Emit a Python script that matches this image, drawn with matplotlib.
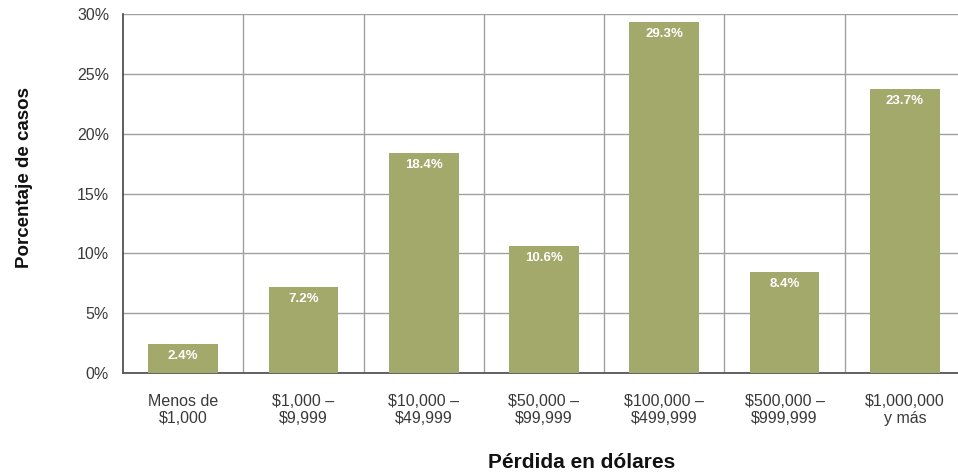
import matplotlib
matplotlib.use("Agg")
import matplotlib.pyplot as plt
import numpy as np

categories = ["Menos de\n$1,000", "$1,000 –\n$9,999", "$10,000 –\n$49,999",
              "$50,000 –\n$99,999", "$100,000 –\n$499,999", "$500,000 –\n$999,999",
              "$1,000,000\ny más"]
values = [2.4, 7.2, 18.4, 10.6, 29.3, 8.4, 23.7]
yticks = [0, 5, 10, 15, 20, 25, 30]

plt.rcParams['font.family'] = ['Liberation Sans', 'DejaVu Sans']

W, H = 958, 475
fig = plt.figure(figsize=(W / 100, H / 100), dpi=100)
left, right, top, bottom = 123, 965, 14, 373
ax = fig.add_axes([left / W, (H - bottom) / H, (right - left) / W, (bottom - top) / H])

x = np.arange(len(categories))
bar_color = "#a3a86b"
ax.bar(x, values, width=0.58, color=bar_color, zorder=3)

for xi, v in zip(x, values):
    ax.text(xi, v - 0.5, f"{v:.1f}%", ha="center", va="top", color="white",
            fontsize=9.5, fontweight="bold", zorder=4)

ax.set_xlim(-0.5, len(categories) - 0.5)
ax.set_ylim(0, 30)
ax.set_yticks(yticks)
ax.set_yticklabels([f"{t}%" for t in yticks], fontsize=11.5, color="#3a3a3a")
ax.set_xticks(x)
ax.set_xticklabels(categories, fontsize=11.5, color="#3a3a3a", linespacing=1.15)
ax.tick_params(axis="both", length=0)
ax.tick_params(axis="x", pad=15)
ax.tick_params(axis="y", pad=10)

ax.set_xticks(np.arange(0.5, len(categories) - 0.5, 1), minor=True)
ax.tick_params(axis="x", which="minor", length=0)
ax.grid(axis="y", which="major", color="#a0a0a0", linewidth=1.0, zorder=0)
ax.grid(axis="x", which="minor", color="#a0a0a0", linewidth=1.0, zorder=0)
ax.grid(axis="x", which="major", visible=False)

for side in ["top", "right"]:
    ax.spines[side].set_visible(False)
ax.spines["left"].set_color("#444444")
ax.spines["bottom"].set_color("#555555")
ax.spines["left"].set_linewidth(1.2)
ax.spines["bottom"].set_linewidth(1.3)

fig.text(25 / W, (H - 178) / H, "Porcentaje de casos", rotation=90, ha="center",
         va="center", fontsize=13.5, fontweight="bold", color="#111111")
fig.text(582 / W, (H - 462) / H, "Pérdida en dólares", ha="center", va="center",
         fontsize=15, fontweight="bold", color="#111111")

fig.savefig("out.png", dpi=100)
